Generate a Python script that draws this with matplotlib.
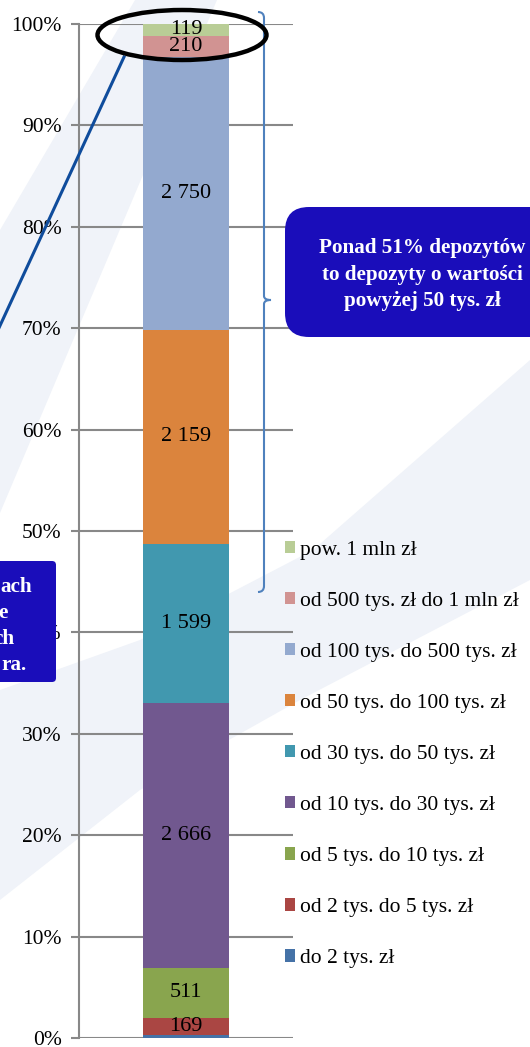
import numpy as np
import matplotlib.pyplot as plt
from matplotlib.patches import Rectangle, Ellipse, FancyBboxPatch, Polygon, PathPatch
from matplotlib.path import Path
from matplotlib.transforms import Affine2D

plt.rcParams['font.family'] = ['Liberation Serif', 'DejaVu Serif']

# ---------------- data ----------------
categories = [
    "do 2 tys. zł",
    "od 2 tys. do 5 tys. zł",
    "od 5 tys. do 10 tys. zł",
    "od 10 tys. do 30 tys. zł",
    "od 30 tys. do 50 tys. zł",
    "od 50 tys. do 100 tys. zł",
    "od 100 tys. do 500 tys. zł",
    "od 500 tys. zł do 1 mln zł",
    "pow. 1 mln zł",
]
counts = [30, 169, 511, 2666, 1599, 2159, 2750, 210, 119]
show_label = [False, True, True, True, True, True, True, True, True]
colors = ["#4572A7", "#AA4643", "#89A54E", "#71588F", "#4198AF",
          "#DB843D", "#93A9CF", "#D19392", "#B9CD96"]
yticks = np.arange(0, 101, 10)

total = sum(counts)
shares = [100 * c / total for c in counts]

W, H = 530, 1047
fig = plt.figure(figsize=(W / 100, H / 100), dpi=100)
fig.patch.set_facecolor("white")

# pixel coordinates with origin in the top-left corner
px = Affine2D().scale(1 / W, -1 / H).translate(0, 1) + fig.transFigure

# faint watermark bands in the background
wm = "#f0f3f9"
fig.patches.append(Polygon([(0, 690), (140, 640), (313, 550), (530, 360),
                            (530, 580), (300, 700), (140, 790), (0, 900)],
                           closed=True, transform=px, facecolor=wm,
                           edgecolor="none", zorder=0))
fig.patches.append(Polygon([(0, 513), (0, 230), (135, 0), (217, 0)],
                           closed=True, transform=px, facecolor=wm,
                           edgecolor="none", zorder=0))

ax = fig.add_axes([79 / W, 1 - 1038 / H, 214 / W, 1014 / H])
ax.set_facecolor("none")
ax.set_zorder(2)

bottom = 0
bars = []
for share, col in zip(shares, colors):
    b = ax.bar(0, share, width=0.4, bottom=bottom, color=col, zorder=3)
    bars.append(b)
    bottom += share

for b, c, show in zip(bars, counts, show_label):
    if show:
        ax.bar_label(b, labels=[f"{c:,}".replace(",", " ")],
                     label_type="center", fontsize=16, color="black")

ax.set_xlim(-0.5, 0.5)
ax.set_ylim(0, 100)
ax.set_yticks(yticks)
ax.set_yticklabels([f"{t}%" for t in yticks], fontsize=15.5)
ax.set_xticks([])
ax.tick_params(axis="y", length=6, width=1.5, color="#888888", pad=6.5)
ax.grid(axis="y", color="#888888", linewidth=1.5, zorder=0)
for side in ["top", "right", "bottom"]:
    ax.spines[side].set_visible(False)
ax.spines["left"].set_color("#888888")
ax.spines["left"].set_linewidth(1.5)

# legend, top category first
handles = [Rectangle((0, 0), 1, 1, facecolor=c) for c in colors][::-1]
leg = fig.legend(handles, categories[::-1], loc="upper left",
                 bbox_to_anchor=(276 / W, 1 - 532 / H), frameon=False,
                 fontsize=15.5, handlelength=0.5, handleheight=0.5,
                 handletextpad=0.2, labelspacing=1.49, borderaxespad=0)
leg.set_zorder(5)

# ellipse around the two top segments and the pointer line
fig.patches.append(Ellipse((182, 35), 169, 50, transform=px, fill=False,
                           edgecolor="black", linewidth=3.2, zorder=10))
fig.lines.append(plt.Line2D([124, -2], [57, 330], transform=px,
                            color="#0f4c9c", linewidth=2.2, zorder=9))

# curly brace next to the bar
brace = Path([(258, 12), (264, 12), (264, 18), (264, 296), (264, 300),
              (271, 300), (264, 300), (264, 304), (264, 586), (264, 592),
              (258, 592)],
             [Path.MOVETO, Path.CURVE3, Path.CURVE3, Path.LINETO,
              Path.CURVE3, Path.CURVE3, Path.CURVE3, Path.CURVE3,
              Path.LINETO, Path.CURVE3, Path.CURVE3])
fig.patches.append(PathPatch(brace, transform=px, fill=False,
                             edgecolor="#4f81bd", linewidth=1.5, zorder=9))

# callout boxes
box_col = "#1a0dba"
fig.patches.append(FancyBboxPatch((285, 207), 290, 130,
                                  boxstyle="round,pad=0,rounding_size=24",
                                  transform=px, facecolor=box_col,
                                  edgecolor="none", zorder=11))
for y, line in zip([248, 275, 301],
                   ["Ponad 51% depozytów", "to depozyty o wartości",
                    "powyżej 50 tys. zł"]):
    fig.text(422 / W, 1 - y / H, line, color="white", fontsize=15.2,
             fontweight="bold", ha="center", va="center", zorder=12)

fig.patches.append(FancyBboxPatch((-40, 561), 96, 121,
                                  boxstyle="round,pad=0,rounding_size=4",
                                  transform=px, facecolor=box_col,
                                  edgecolor="none", zorder=11))
for x, y, frag in zip([32, 8, 14, 27], [587, 613, 639, 665],
                      ["ach", "e", "ch", "ra."]):
    fig.text(x / W, 1 - y / H, frag, color="white", fontsize=15.2,
             fontweight="bold", ha="right", va="center", zorder=12)

fig.savefig("out.png", dpi=100, facecolor=fig.get_facecolor())
